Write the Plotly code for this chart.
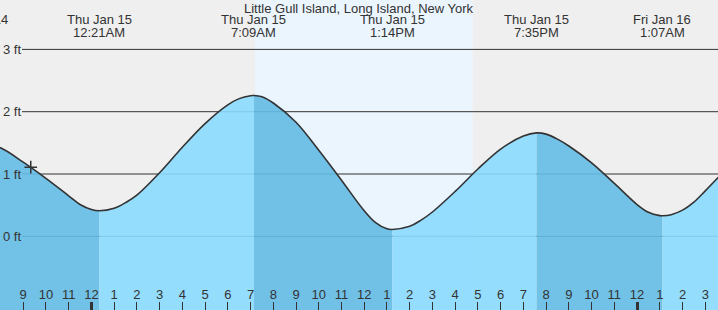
import plotly.graph_objects as go

# ---- data (hours relative to Thu Jan 15, 00:00; heights in ft) ----
hours = [-4, -3, -2, -1, -0.5, 0, 1, 1.5, 2, 3, 4, 5, 6, 6.5, 7, 7.5, 8, 9, 10, 11, 12,
         12.5, 13, 14, 14.5, 15, 16, 17, 18, 19, 20, 20.5, 21, 22, 23, 24, 24.5, 25,
         25.5, 26, 26.5, 27, 28]
heights = [1.42, 1.19, 0.93, 0.65, 0.51, 0.43, 0.45, 0.54, 0.66, 1.02, 1.43, 1.81, 2.11,
           2.21, 2.257, 2.24, 2.14, 1.83, 1.38, 0.90, 0.41, 0.22, 0.12, 0.16, 0.26, 0.39,
           0.72, 1.08, 1.40, 1.61, 1.64, 1.56, 1.45, 1.18, 0.85, 0.51, 0.385, 0.332, 0.347,
           0.42, 0.55, 0.73, 1.11]

ext_times = [-5.1667, 0.35, 7.15, 13.2333, 19.5833, 25.1167]
ext_heights = [1.54, 0.41, 2.26, 0.11, 1.66, 0.33]
ext_dates = ["Wed Jan 14", "Thu Jan 15", "Thu Jan 15", "Thu Jan 15", "Thu Jan 15", "Fri Jan 16"]
ext_clock = ["6:50PM", "12:21AM", "7:09AM", "1:14PM", "7:35PM", "1:07AM"]

sunrise, sunset = 7.183, 16.767
now_t, now_h = -2.667, 1.11

title = "Little Gull Island, Long Island, New York"
hour_ticks = list(range(-4, 28))
hour_labels = [str((h % 12) or 12) for h in hour_ticks]
midnights = [0, 24]
y_ticks = [0, 1, 2, 3]
y_labels = ["0 ft", "1 ft", "2 ft", "3 ft"]

x_range = [-4.02, 27.56]
y_range = [-1.183, 3.793]

FONT = "Liberation Sans, Arial, sans-serif"
TXT = "#333333"
DARK = "rgba(100,187,228,0.9)"
LIGHT = "rgba(139,218,254,0.9)"

# ---- merge curve points ----
pts = sorted(list(zip(ext_times, ext_heights)) + list(zip(hours, heights)))
ct = [p[0] for p in pts]
ch = [p[1] for p in pts]

fig = go.Figure()

breaks = ext_times + [hours[-1]]
for i in range(len(breaks) - 1):
    a, b = breaks[i], breaks[i + 1]
    seg = [(t, h) for t, h in pts if a <= t <= b]
    sx = [p[0] for p in seg]
    sy = [p[1] for p in seg]
    rising = sy[-1] > sy[0]
    fig.add_trace(go.Scatter(x=[a, b], y=[y_range[0] - 1, y_range[0] - 1], mode="lines",
                             line=dict(width=0), hoverinfo="skip"))
    fig.add_trace(go.Scatter(x=sx, y=sy, mode="lines",
                             line=dict(width=0, shape="spline", smoothing=1.0),
                             fill="tonexty", fillcolor=LIGHT if rising else DARK,
                             hoverinfo="skip"))

fig.add_trace(go.Scatter(x=ct, y=ch, mode="lines",
                         line=dict(color="#333333", width=1.6, shape="spline", smoothing=1.0),
                         hoverinfo="skip"))
fig.add_trace(go.Scatter(x=[now_t], y=[now_h], mode="markers",
                         marker=dict(symbol="cross-thin", size=9,
                                     line=dict(width=1.5, color="#333333")),
                         hoverinfo="skip"))
fig.add_trace(go.Scatter(x=[x_range[0]], y=[y_range[0] - 5], xaxis="x2", mode="markers",
                         marker=dict(opacity=0), hoverinfo="skip"))

shapes = [dict(type="rect", xref="x", yref="paper", x0=sunrise, x1=sunset, y0=0, y1=1,
               fillcolor="#ebf5fe", line=dict(width=0), layer="below")]
for v in y_ticks:
    shapes.append(dict(type="line", xref="paper", yref="y", x0=22 / 718, x1=1, y0=v, y1=v,
                       line=dict(color="#333333", width=1), layer="below"))

ann = [dict(text=title, xref="paper", yref="paper", x=0.5, y=1 - 8.2 / 310,
            xanchor="center", yanchor="middle", showarrow=False,
            font=dict(size=13, color=TXT, family=FONT))]
span = x_range[1] - x_range[0]
for t, d, c in zip(ext_times, ext_dates, ext_clock):
    inside = x_range[0] <= t <= x_range[1]
    xr = "x" if inside else "paper"
    xv = t if inside else (t - x_range[0]) / span
    ann.append(dict(text=d, xref=xr, yref="paper", x=xv, y=1 - 19.7 / 310,
                    xanchor="center", yanchor="middle",
                    showarrow=False, font=dict(size=13, color=TXT, family=FONT)))
    ann.append(dict(text=c, xref=xr, yref="paper", x=xv, y=1 - 32.5 / 310,
                    xanchor="center", yanchor="middle",
                    showarrow=False, font=dict(size=13, color=TXT, family=FONT)))

fig.update_layout(
    width=718, height=310, margin=dict(l=0, r=0, t=0, b=0, autoexpand=False),
    paper_bgcolor="#efefef", plot_bgcolor="#efefef", showlegend=False,
    font=dict(family=FONT, size=13, color=TXT),
    shapes=shapes, annotations=ann,
    xaxis=dict(range=x_range, tickvals=hour_ticks, ticktext=hour_labels, ticks="inside",
               ticklen=8, tickwidth=1, tickcolor="#333333", ticklabelposition="inside",
               ticklabeloverflow="allow", showgrid=False, zeroline=False, showline=False,
               automargin=False,
               tickfont=dict(size=13, color=TXT, family=FONT), fixedrange=True),
    xaxis2=dict(range=x_range, overlaying="x", anchor="y", side="bottom", tickvals=midnights,
                ticks="inside", ticklen=8, tickwidth=3, tickcolor="#333333", automargin=False,
                showticklabels=False, showgrid=False, zeroline=False, showline=False),
    yaxis=dict(range=y_range, tickvals=y_ticks, ticktext=y_labels, ticks="",
               ticklabelposition="inside", showgrid=False, zeroline=False, showline=False,
               automargin=False,
               tickfont=dict(size=13, color=TXT, family=FONT), fixedrange=True),
)

fig.write_html("out.html")
